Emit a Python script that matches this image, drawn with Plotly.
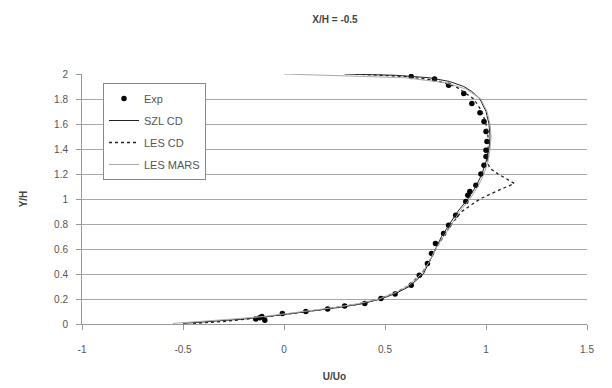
import plotly.graph_objects as go

# ---- data ----
exp_y = [0.03, 0.04, 0.05, 0.06, 0.085, 0.10, 0.12, 0.144, 0.165, 0.205, 0.24, 0.31,
         0.39, 0.485, 0.565, 0.645, 0.725, 0.79, 0.87, 0.98, 1.03, 1.06, 1.11, 1.20,
         1.27, 1.34, 1.39, 1.46, 1.54, 1.62, 1.69, 1.765, 1.845, 1.91, 1.96, 1.98]
exp_x = [-0.095, -0.14, -0.12, -0.11, -0.008, 0.108, 0.216, 0.30, 0.40, 0.48, 0.55, 0.63,
         0.67, 0.71, 0.73, 0.75, 0.79, 0.815, 0.85, 0.90, 0.91, 0.92, 0.95, 0.975,
         0.99, 1.0, 1.0, 1.005, 1.0, 0.99, 0.97, 0.93, 0.89, 0.815, 0.745, 0.63]

szl_y = [0.005, 0.02, 0.04, 0.06, 0.08, 0.10, 0.13, 0.16, 0.20, 0.25, 0.30, 0.40, 0.50,
         0.60, 0.70, 0.80, 0.90, 1.00, 1.10, 1.20, 1.30, 1.40, 1.50, 1.60, 1.70, 1.80,
         1.86, 1.90, 1.94, 1.97, 1.99, 2.00]
szl_x = [-0.50, -0.35, -0.20, -0.08, 0.02, 0.12, 0.26, 0.38, 0.48, 0.56, 0.62, 0.69, 0.72,
         0.75, 0.78, 0.82, 0.86, 0.91, 0.95, 0.98, 1.00, 1.015, 1.02, 1.015, 1.00, 0.97,
         0.93, 0.89, 0.82, 0.72, 0.55, 0.30]

lescd_y = [0.005, 0.02, 0.04, 0.06, 0.08, 0.10, 0.13, 0.16, 0.20, 0.25, 0.30, 0.40, 0.50,
           0.60, 0.70, 0.80, 0.90, 1.00, 1.06, 1.125, 1.20, 1.245, 1.30, 1.40, 1.50, 1.60,
           1.70, 1.80, 1.90, 1.95, 1.98, 2.00]
lescd_x = [-0.45, -0.30, -0.18, -0.07, 0.03, 0.12, 0.25, 0.37, 0.47, 0.55, 0.61, 0.68, 0.72,
           0.75, 0.79, 0.83, 0.88, 0.97, 1.05, 1.14, 1.06, 1.02, 1.005, 1.01, 1.01, 1.00,
           0.98, 0.94, 0.85, 0.75, 0.60, 0.35]

mars_y = [0.005, 0.02, 0.04, 0.06, 0.08, 0.10, 0.13, 0.16, 0.20, 0.25, 0.30, 0.40, 0.50,
          0.60, 0.70, 0.80, 0.90, 1.00, 1.10, 1.20, 1.30, 1.40, 1.50, 1.60, 1.70, 1.80,
          1.88, 1.93, 1.97, 1.99, 2.00]
mars_x = [-0.55, -0.40, -0.25, -0.10, 0.00, 0.10, 0.24, 0.36, 0.47, 0.55, 0.61, 0.68, 0.72,
          0.75, 0.79, 0.83, 0.87, 0.92, 0.96, 0.99, 1.01, 1.02, 1.025, 1.02, 1.005, 0.975,
          0.90, 0.80, 0.60, 0.20, 0.00]

x_ticks = [-1, -0.5, 0, 0.5, 1, 1.5]
y_ticks = [0, 0.2, 0.4, 0.6, 0.8, 1, 1.2, 1.4, 1.6, 1.8, 2]

FONT = "Liberation Sans, Arial, sans-serif"
W, H = 604, 380  # page has an 8px body margin
L, R, T, B = 74, 25, 66, 64

fig = go.Figure()
fig.add_trace(go.Scatter(x=exp_x, y=exp_y, mode="markers", name="Exp", legendgroup="a",
                         marker=dict(color="black", size=5.5, symbol="circle")))
fig.add_trace(go.Scatter(x=szl_x, y=szl_y, mode="lines", name="SZL CD", legendgroup="b",
                         line=dict(color="#222222", width=1)))
fig.add_trace(go.Scatter(x=lescd_x, y=lescd_y, mode="lines", name="LES CD", legendgroup="c",
                         line=dict(color="#222222", width=1.3, dash="3px,3px")))
fig.add_trace(go.Scatter(x=mars_x, y=mars_y, mode="lines", name="LES MARS", legendgroup="d",
                         line=dict(color="#aaaaaa", width=1)))

pw, ph = W - L - R, H - T - B
fig.update_layout(
    width=W, height=H,
    margin=dict(l=L, r=R, t=T, b=B, autoexpand=False),
    paper_bgcolor="white", plot_bgcolor="white",
    font=dict(family=FONT, size=10, color="#555555"),
    title=dict(text="<b>X/H = -0.5</b>", x=(335 - 8) / W, xanchor="center", y=1 - 11 / H,
               yanchor="middle", font=dict(size=10, color="#444444")),
    showlegend=True,
    legend=dict(x=(103 - 82) / pw, y=(324 - 83) / ph, xanchor="left", yanchor="top",
                bgcolor="white", bordercolor="#888888", borderwidth=1,
                font=dict(size=11, color="#555555"), tracegroupgap=3),
    xaxis=dict(range=[-1, 1.5], tickvals=x_ticks, ticktext=[f"{v:g}" for v in x_ticks],
               automargin=False,
               showgrid=False, zeroline=False, showline=True, linecolor="#999999",
               ticks="outside", ticklen=5, tickcolor="#999999", ticklabelstandoff=11,
               title=dict(text="<b>U/Uo</b>", font=dict(size=10, color="#444444"), standoff=18),
               tickfont=dict(size=10, color="#555555")),
    yaxis=dict(range=[0, 2], tickvals=y_ticks, ticktext=[f"{v:g}" for v in y_ticks],
               automargin=False,
               showgrid=True, gridcolor="#a8a8a8", gridwidth=1.3, zeroline=False,
               showline=True, linecolor="#999999",
               ticks="outside", ticklen=5, tickcolor="#999999", ticklabelstandoff=6,
               title=dict(text="<b>Y/H</b>", font=dict(size=10, color="#444444"), standoff=24),
               tickfont=dict(size=10, color="#555555")),
)
fig.write_html("out.html")
